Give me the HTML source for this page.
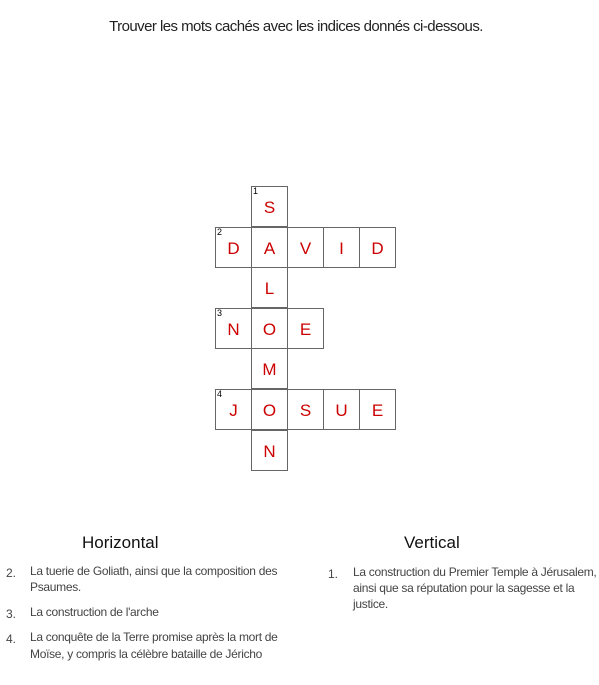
<!DOCTYPE html>
<html><head><meta charset="utf-8"><style>
body{margin:0;width:599px;height:685px;background:#fff;position:relative;overflow:hidden;font-family:"Liberation Sans",sans-serif;}
.t{position:absolute;white-space:nowrap;}
.title{left:0;width:592px;text-align:center;top:18px;font-size:15px;color:#222;letter-spacing:-0.55px;}
.h{font-size:17px;color:#111;top:533px;}
.c{position:absolute;border:1px solid #666;box-sizing:border-box;width:37px;height:41px;background:#fff;}
.c span{position:absolute;left:0;right:0;top:11px;text-align:center;font-size:17px;color:#cc0000;}
.c i{position:absolute;left:1px;top:-1px;font-size:9px;font-style:normal;color:#000;}
.li{font-size:12px;color:#444;letter-spacing:-0.3px;}
.n{font-size:12px;color:#444;}
</style></head><body>
<div class="t title">Trouver les mots cachés avec les indices donnés ci-dessous.</div>
<div id="grid"></div>
<div class="t h" style="left:82px">Horizontal</div>
<div class="t h" style="left:404px">Vertical</div>
<div>
<div class="t n" style="left:6px;top:566px">2.</div>
<div class="t li" style="left:30px;top:564px">La tuerie de Goliath, ainsi que la composition des</div>
<div class="t li" style="left:30px;top:580px">Psaumes.</div></div>
<div>
<div class="t n" style="left:6px;top:607px">3.</div>
<div class="t li" style="left:30px;top:605px">La construction de l'arche</div></div>
<div>
<div class="t n" style="left:6px;top:632px">4.</div>
<div class="t li" style="left:30px;top:630px">La conquête de la Terre promise après la mort de</div>
<div class="t li" style="left:30px;top:647px">Moïse, y compris la célèbre bataille de Jéricho</div></div>
<div>
<div class="t n" style="left:328px;top:567px">1.</div>
<div class="t li" style="left:353px;top:565px">La construction du Premier Temple à Jérusalem,</div>
<div class="t li" style="left:353px;top:581px">ainsi que sa réputation pour la sagesse et la</div>
<div class="t li" style="left:353px;top:597px">justice.</div></div>
<script>
const cells=[
[1,0,'S','1'],[0,1,'D','2'],[1,1,'A',''],[2,1,'V',''],[3,1,'I',''],[4,1,'D',''],
[1,2,'L',''],[0,3,'N','3'],[1,3,'O',''],[2,3,'E',''],[1,4,'M',''],
[0,5,'J','4'],[1,5,'O',''],[2,5,'S',''],[3,5,'U',''],[4,5,'E',''],[1,6,'N','']];
const g=document.getElementById('grid');
for(const [c,r,l,n] of cells){
const d=document.createElement('div');d.className='c';


d.style.left=(215+c*36)+'px';d.style.top=(186+r*40.6)+'px';
d.innerHTML=(n?'<i>'+n+'</i>':'')+'<span>'+l+'</span>';
g.appendChild(d);}
</script>
</body></html>
